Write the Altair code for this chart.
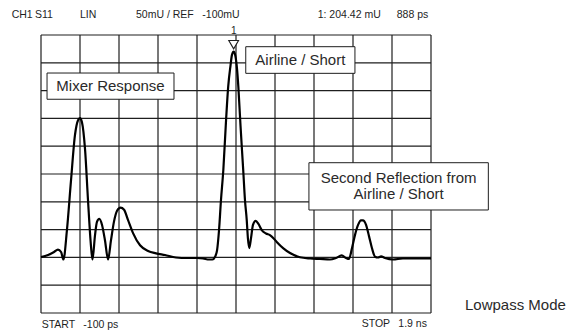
import altair as alt
import pandas as pd

# S11 time-domain trace (lowpass mode): time in ps, reflection magnitude in mU
time_ps = [-100, -64, -33, -13, 3, 15, 33, 54, 74, 90, 100, 110, 126, 141, 156, 164,
           177, 187, 199, 213, 228, 244, 259, 274, 290, 308, 326, 346, 372, 408, 449,
           490, 536, 592, 649, 700, 731, 762, 779, 792, 803, 813, 823, 835, 849, 860,
           872, 879, 888, 897, 905, 912, 923, 937, 946, 955, 961, 968, 977, 987, 1001,
           1015, 1032, 1054, 1074, 1092, 1110, 1143, 1177, 1228, 1280, 1331, 1382,
           1413, 1442, 1464, 1479, 1495, 1510, 1526, 1541, 1551, 1567, 1582, 1597,
           1613, 1628, 1644, 1664, 1705, 1756, 1808, 1900]
refl_mu = [2.5, 4.4, 7.4, 9.8, 7.4, 0, 29, 78, 122, 137, 139, 135, 108, 58.5, 14, 0,
           24, 37, 40, 34, 19, 0, 19, 37, 48, 51, 49, 39, 26, 14, 8.4,
           6.1, 4.4, 2, 1.5, 1.5, 1, 0, 0, 2.5, 9.3, 29, 58.5, 88, 137, 170,
           191, 201, 204.42, 200, 188, 170, 132, 88, 58.5, 39, 21, 11.3, 21, 34, 38,
           35, 29, 25.6, 24, 21, 17, 11, 6.4, 2.2, 1, 0.5, 0,
           1.5, 4, 1.5, 0.5, 11.3, 24, 34, 38.4, 38.4, 34, 23, 11.3,
           2.8, 2, 3.1, 1.5, 0, 1, 1, 1]

# marker 1 readout
marker_t = [888]
marker_v = [204.42]

# display window: 10 x 10 graticule
t_start, t_stop = -100, 1900
v_bottom, v_top = -52.6, 220.8
divisions = 10
x_grid = [t_start + i * (t_stop - t_start) / divisions for i in range(divisions + 1)]
y_grid = [v_bottom + i * (v_top - v_bottom) / divisions for i in range(divisions + 1)]

# annotation callouts (chart units)
box_text = [["Mixer Response"], ["Airline / Short"], ["Second Reflection from", "Airline / Short"]]
box_t1 = [-69, 950, 1274]
box_t2 = [582, 1510, 2194]
box_v1 = [183.4, 209.3, 95.2]
box_v2 = [157.6, 183.1, 48.7]

FONT = "Liberation Sans, Arial, sans-serif"
INK = "#1e1e1e"

xs = alt.Scale(domain=[t_start, t_stop], nice=False, zero=False)
ys = alt.Scale(domain=[v_bottom, v_top], nice=False, zero=False)


def X(field):
    return alt.X(field, scale=xs, axis=None)


def Y(field):
    return alt.Y(field, scale=ys, axis=None)


# graticule
vgrid = alt.Chart(pd.DataFrame({"t": x_grid})).mark_rule(color=INK, strokeWidth=1.2).encode(x=X("t:Q"))
hgrid = alt.Chart(pd.DataFrame({"v": y_grid})).mark_rule(color=INK, strokeWidth=1.2).encode(y=Y("v:Q"))

trace = pd.DataFrame({"t": time_ps, "v": refl_mu})
line = alt.Chart(trace).mark_line(color="black", strokeWidth=2.2, interpolate="monotone").encode(
    x=X("t:Q"), y=Y("v:Q")
)

boxes_df = pd.DataFrame({"t1": box_t1, "t2": box_t2, "v1": box_v1, "v2": box_v2})
boxes = alt.Chart(boxes_df).mark_rect(fill="white", stroke=INK, strokeWidth=1).encode(
    x=X("t1:Q"), x2="t2:Q", y=Y("v1:Q"), y2="v2:Q"
)

label_rows = []
for lines, a, b, top, bot in zip(box_text, box_t1, box_t2, box_v1, box_v2):
    mid_t = (a + b) / 2
    n = len(lines)
    step = (top - bot) / (n + 1)
    for k, s in enumerate(lines):
        label_rows.append({"t": mid_t, "v": top - step * (k + 1), "s": s})
labels = alt.Chart(pd.DataFrame(label_rows)).mark_text(
    font=FONT, fontSize=15, color="#2a2a2a", align="center", baseline="middle"
).encode(x=X("t:Q"), y=Y("v:Q"), text="s:N")

mk = pd.DataFrame({"t": marker_t, "v": marker_v, "n": ["1"]})
marker = alt.Chart(mk).mark_point(
    shape="triangle-down", size=95, filled=True, fill="white", stroke=INK, strokeWidth=1.1,
    yOffset=-7, opacity=1
).encode(x=X("t:Q"), y=Y("v:Q"))
marker_num = alt.Chart(mk).mark_text(
    font=FONT, fontSize=10, color=INK, dy=-21, baseline="middle"
).encode(x=X("t:Q"), y=Y("v:Q"), text="n:N")

# instrument annotations around the graticule (pixel offsets from plot origin)
ann_text = ["CH1", "S11", "LIN", "50mU / REF", "-100mU", "1: 204.42 mU", "888 ps",
            "START", "-100 ps", "STOP", "1.9 ns"]
ann_x = [-29.3, -6, 39, 95, 161.3, 276.7, 355.7, 0.7, 42.3, 320.7, 357.3]
ann_y = [-20, -20, -20, -20, -20, -20, -20, 290, 290, 289, 289]
ann = alt.Chart(pd.DataFrame({"s": ann_text, "px": ann_x, "py": ann_y})).mark_text(
    font=FONT, fontSize=10.5, color=INK, align="left", baseline="middle"
).encode(x=alt.X("px:Q", scale=None), y=alt.Y("py:Q", scale=None), text="s:N")

mode = alt.Chart(pd.DataFrame({"s": ["Lowpass Mode"], "px": [424], "py": [270]})).mark_text(
    font=FONT, fontSize=15, color="#2a2a2a", align="left", baseline="middle"
).encode(x=alt.X("px:Q", scale=None), y=alt.Y("py:Q", scale=None), text="s:N")

chart = alt.layer(vgrid, hgrid, line, boxes, labels, marker, marker_num, ann, mode).properties(
    width=390, height=278,
    autosize=alt.AutoSizeParams(type="none"),
    padding={"left": 41, "top": 35, "right": 143, "bottom": 18},
    background="white",
).configure_view(stroke=None)

chart.save("out.html", embed_options={"renderer": "svg", "actions": False})
